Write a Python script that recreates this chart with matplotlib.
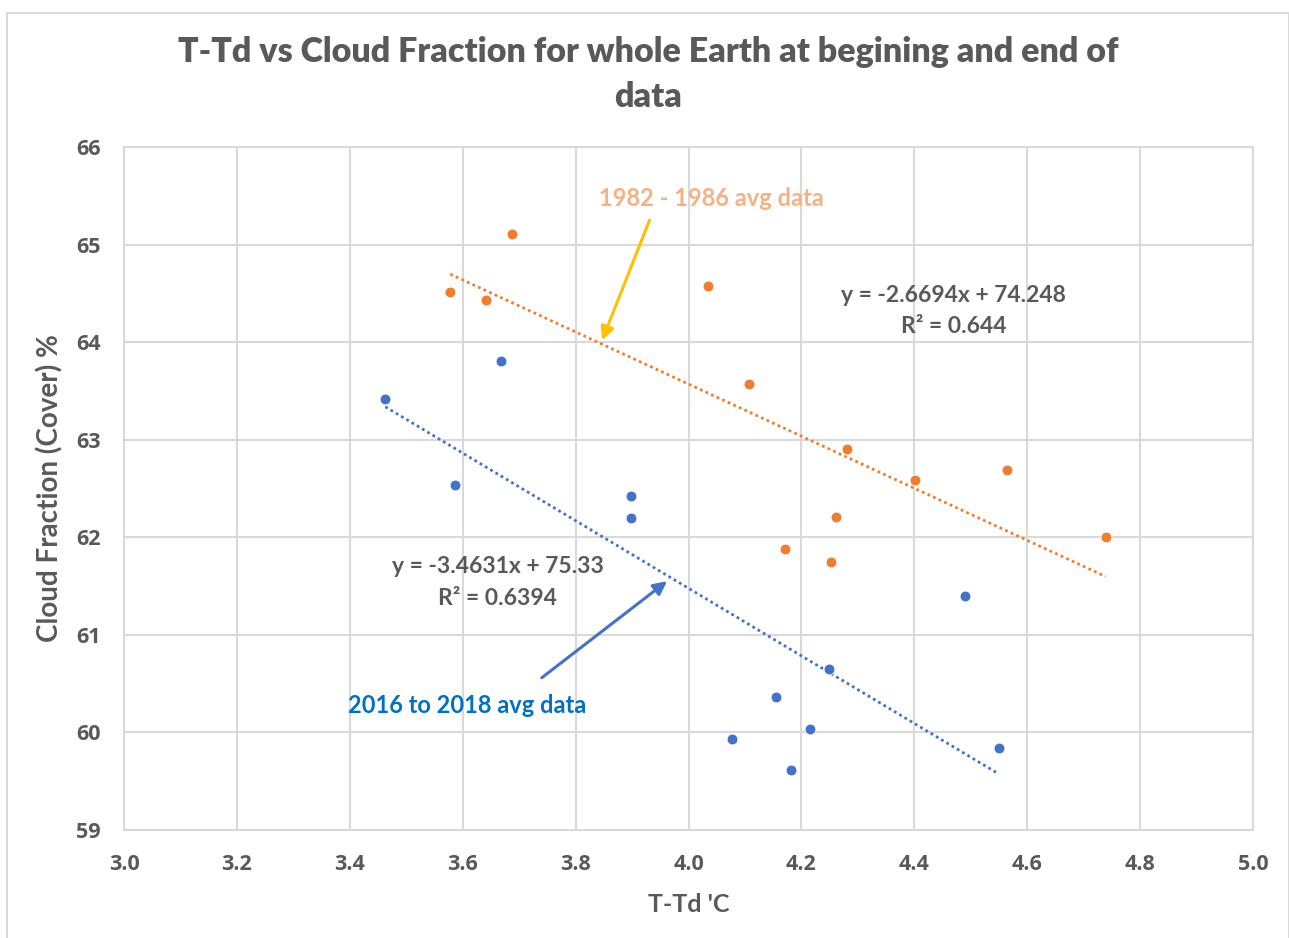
import matplotlib
matplotlib.use("Agg")
import matplotlib.pyplot as plt
from matplotlib.patches import Rectangle
import numpy as np

# 1982-1986 averages (T-Td in degC, cloud fraction in %)
early_ttd = [3.578, 3.642, 3.687, 4.035, 4.107, 4.280, 4.401, 4.565, 4.739, 4.171, 4.262, 4.253]
early_cloud = [64.51, 64.43, 65.11, 64.58, 63.57, 62.90, 62.59, 62.69, 62.00, 61.88, 62.21, 61.75]

# 2016-2018 averages
late_ttd = [3.463, 3.668, 3.586, 3.898, 3.898, 4.489, 4.249, 4.155, 4.077, 4.216, 4.182, 4.550]
late_cloud = [63.42, 63.81, 62.54, 62.42, 62.20, 61.40, 60.65, 60.36, 59.93, 60.04, 59.61, 59.84]

# Linear trend fits as reported
early_slope, early_intercept, early_r2 = -2.6694, 74.248, 0.644
late_slope, late_intercept, late_r2 = -3.4631, 75.33, 0.6394

x_ticks = [3.0, 3.2, 3.4, 3.6, 3.8, 4.0, 4.2, 4.4, 4.6, 4.8, 5.0]
y_ticks = [59, 60, 61, 62, 63, 64, 65, 66]

ORANGE = "#ED7D31"
BLUE = "#4472C4"
GREY = "#595959"
GRID = "#D9D9D9"

W, H = 1289, 938
fig = plt.figure(figsize=(W / 100, H / 100), dpi=100)
fig.patch.set_facecolor("white")

# outer chart frame
fig.patches.append(Rectangle((7 / W, -0.01), (W - 7.5) / W, (H - 13) / H + 0.01,
                             transform=fig.transFigure, fill=False,
                             edgecolor="#D9D9D9", lw=1.5, clip_on=False))

ax = fig.add_axes([124 / W, (H - 830) / H, (1253 - 124) / W, (830 - 147) / H])
ax.set_xlim(3.0, 5.0)
ax.set_ylim(59, 66)
ax.set_xticks(x_ticks)
ax.set_xticklabels([f"{t:.1f}" for t in x_ticks])
ax.set_yticks(y_ticks)
ax.grid(True, color=GRID, lw=1.5)
ax.set_axisbelow(True)
for s in ax.spines.values():
    s.set_color(GRID)
    s.set_linewidth(1.5)
ax.tick_params(length=0, colors=GREY, labelsize=15.5)
ax.tick_params(axis="y", pad=17)
ax.tick_params(axis="x", pad=17)
for lab in ax.get_xticklabels() + ax.get_yticklabels():
    lab.set_fontfamily("Open Sans")
    lab.set_fontweight("bold")

# scatter points
ax.plot(early_ttd, early_cloud, "o", color=ORANGE, ms=7.8, mec="white", mew=0.6, zorder=3)
ax.plot(late_ttd, late_cloud, "o", color=BLUE, ms=7.8, mec="white", mew=0.6, zorder=3)

# trend lines across each series' range
ex = np.array([min(early_ttd), max(early_ttd)])
lx = np.array([min(late_ttd), max(late_ttd)])
ax.plot(ex, early_slope * ex + early_intercept, color=ORANGE, lw=2.0,
        linestyle=(0, (1, 1.2)), zorder=2)
ax.plot(lx, late_slope * lx + late_intercept, color=BLUE, lw=2.0,
        linestyle=(0, (1, 1.2)), zorder=2)

# trend equations
eq_font = dict(fontfamily="Lato", fontweight="bold", color=GREY, fontsize=16.5,
               ha="center", va="center")
ax.text(4.470, 64.48, f"y = {early_slope}x + {early_intercept}", **eq_font)
ax.text(4.470, 64.16, f"R² = {early_r2}", **eq_font)
ax.text(3.662, 61.70, f"y = {late_slope}x + {late_intercept}", **eq_font)
ax.text(3.662, 61.37, f"R² = {late_r2}", **eq_font)

# series call-outs
ax.text(4.041, 65.47, "1982 - 1986 avg data", fontfamily="Lato", fontweight="bold",
        fontsize=17, color="#F4B183", ha="center", va="center")
ax.annotate("", xy=(3.847, 64.02), xytext=(3.931, 65.25),
            arrowprops=dict(arrowstyle="-|>", color="#FFC000", lw=2.2,
                            mutation_scale=20, shrinkA=0, shrinkB=0))
ax.text(3.608, 60.28, "2016 to 2018 avg data", fontfamily="Lato", fontweight="bold",
        fontsize=17, color="#0070C0", ha="center", va="center")
ax.annotate("", xy=(3.962, 61.55), xytext=(3.740, 60.56),
            arrowprops=dict(arrowstyle="-|>", color=BLUE, lw=2.2,
                            mutation_scale=20, shrinkA=0, shrinkB=0))

# axis titles
ax.set_xlabel("T-Td 'C", fontfamily="Lato", fontweight="bold", fontsize=18,
              color=GREY, labelpad=13)
ax.set_ylabel("Cloud Fraction (Cover) %", fontfamily="Lato", fontweight="bold",
              fontsize=20, color=GREY, labelpad=9)

title_font = dict(fontfamily="Lato", fontweight="heavy", fontsize=24.5, color=GREY,
                  ha="center", va="center")
fig.text(648 / W, 1 - 52 / H, "T-Td vs Cloud Fraction for whole Earth at begining and end of",
         **title_font)
fig.text(648 / W, 1 - 97 / H, "data", **title_font)

fig.savefig("out.png", dpi=100, facecolor="white")
